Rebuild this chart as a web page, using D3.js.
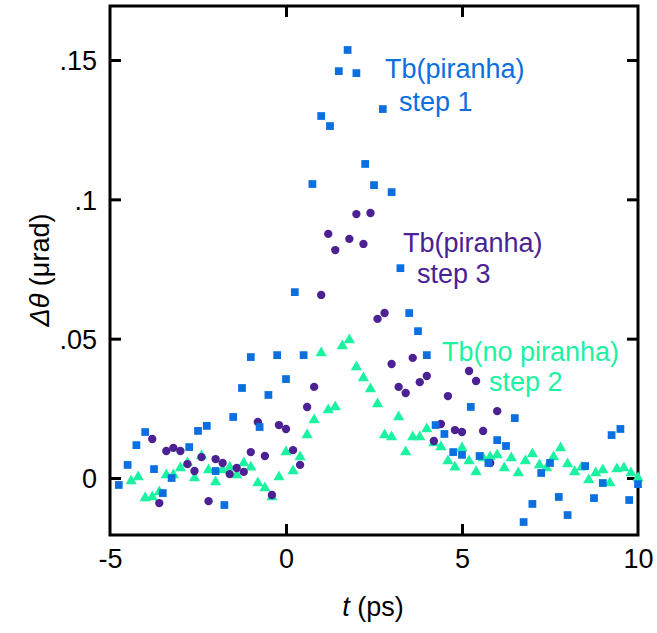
<!DOCTYPE html>
<html>

<head>
    <meta charset=utf-8 />
    <script src="https://cdn.jsdelivr.net/npm/d3@7/dist/d3.min.js"></script>
    <title>delta theta vs t</title>
    <style>
        html,
        body {
            margin: 0;
            background: #fff;
        }

        svg text {
            font-family: "Liberation Sans", Arial, sans-serif;
        }
    </style>
</head>

<body>
    <div id="svg-canvas"></div>
    <script>
        // step 1: Tb(piranha), squares
        var step1T = [-4.75, -4.5, -4.25, -4, -3.75, -3.5, -3.25, -2.75, -2.5, -2.25, -2, -1.75, -1.5, -1.25, -1,
            -0.75, -0.5, -0.25, 0, 0.25, 0.5, 0.75, 1, 1.25, 1.5, 1.75, 2, 2.25, 2.5, 2.75, 3, 3.25, 3.5, 3.75, 4,
            4.25, 4.5, 4.75, 5, 5.25, 5.5, 5.75, 6, 6.25, 6.5, 6.75, 7, 7.25, 7.5, 7.75, 8, 8.5, 8.75, 9, 9.25, 9.5,
            9.75, 10];
        var step1V = [-0.0025, 0.0047, 0.0118, 0.0165, 0.0032, -0.0054, 0, 0.0111, 0.0169, 0.0187, 0.0025, -0.0097,
            0.0219, 0.0323, 0.0434, 0.0183, 0.0298, 0.0441, 0.0355, 0.0667, 0.0441, 0.1055, 0.1299, 0.1263, 0.146,
            0.1536, 0.1453, 0.1127, 0.1051, 0.1324, 0.1026, 0.0753, 0.0592, 0.0527, 0.0441, 0.019, 0.0158, 0.0093,
            0.0083, 0.0255, 0.0079, 0.0054, 0.0136, 0.0115, 0.0215, -0.0158, -0.0093, 0.0018, 0.0054, -0.0068,
            -0.0133, 0.0043, -0.0072, -0.0018, 0.0154, 0.0176, -0.0079, -0.0022];

        // step 3: Tb(piranha), circles
        var step3T = [-3.8, -3.6, -3.4, -3.2, -3, -2.8, -2.6, -2.4, -2.2, -2, -1.8, -1.6, -1.4, -1.2, -1, -0.8, -0.6,
            -0.4, -0.2, 0, 0.2, 0.4, 0.6, 0.8, 1, 1.2, 1.4, 1.8, 2, 2.2, 2.4, 2.6, 2.8, 3, 3.2, 3.4, 3.6, 3.8, 4,
            4.2, 4.4, 4.6, 4.8, 5, 5.2, 5.4, 5.6, 5.8, 6];
        var step3V = [0.014, -0.009, 0.0097, 0.0108, 0.0097, 0.005, 0.0025, 0.0075, -0.0083, 0.0068, 0.0054, 0.0014,
            0.0036, 0.0022, 0.0093, 0.0201, 0.0079, -0.0061, 0.019, 0.0176, 0.01, 0.0047, 0.0255, 0.0327, 0.0657,
            0.0876, 0.0818, 0.0858, 0.0947, 0.084, 0.0951, 0.0571, 0.0592, 0.0409, 0.0327, 0.0305, 0.0431, 0.0344,
            0.0366, 0.0133, 0.0194, 0.0294, 0.0172, 0.0165, 0.0384, 0.0348, 0.0169, 0.0054, 0.024];

        // step 2: Tb(no piranha), triangles
        var step2T = [-4.4, -4.2, -4, -3.8, -3.6, -3.4, -3.2, -3, -2.8, -2.6, -2.4, -2.2, -2, -1.8, -1.6, -1.4, -1.2,
            -1, -0.8, -0.6, -0.4, -0.2, 0, 0.2, 0.4, 0.6, 0.8, 1, 1.2, 1.4, 1.6, 1.8, 2, 2.2, 2.4, 2.6, 2.8, 3, 3.2,
            3.4, 3.6, 3.8, 4, 4.2, 4.4, 4.6, 4.8, 5, 5.2, 5.4, 5.6, 5.8, 6, 6.2, 6.4, 6.6, 6.8, 7, 7.2, 7.4, 7.6,
            7.8, 8, 8.2, 8.4, 8.6, 8.8, 9, 9.2, 9.4, 9.6, 9.8, 10];
        var step2V = [-0.0011, 0.0004, -0.0072, -0.0068, -0.005, 0.0011, 0.0011, 0.0036, 0.0054, 0, 0.0079, 0.0029,
            -0.0014, 0.0029, 0.0039, 0.0011, 0.0054, 0.0039, -0.0018, -0.0036, -0.0068, 0.0004, 0.0093, 0.0025,
            0.0075, 0.0154, 0.0208, 0.0449, 0.0244, 0.0255, 0.0474, 0.0495, 0.0398, 0.0359, 0.0319, 0.0266, 0.0154,
            0.0147, 0.0219, 0.0093, 0.0147, 0.0147, 0.0176, 0.0126, 0.0111, 0.0061, 0.0039, 0.0108, 0.0061, 0.0022,
            0.0072, 0.0075, 0.0083, 0.0036, 0.0072, 0.0018, 0.0061, 0.0086, 0.0047, 0.0036, 0.0075, 0.0108, 0.005,
            0.0022, 0.0039, -0.0007, 0.0018, 0.0029, -0.0018, 0.0032, 0.0036, 0.0018, 0];

        var xTicks = [-5, 0, 5, 10];
        var yTicks = [0, 0.05, 0.1, 0.15];
    </script>
    <script>
        var W = 657, H = 633;
        var blue = '#0b6fdf', purple = '#4b2194', green = '#1cf3a2';

        var svg = d3.select('#svg-canvas').append('svg')
            .attr('width', W)
            .attr('height', H);

        var x = d3.scaleLinear().domain([-5, 10]).range([110, 638]);
        var y = d3.scaleLinear().domain([-0.02045, 0.16938]).range([535, 6]);

        var fmtY = d => d === 0 ? '0' : d3.format('.2~f')(d).replace(/^0/, '');

        // frame
        svg.append('rect')
            .attr('x', 110).attr('y', 6)
            .attr('width', 528).attr('height', 529)
            .attr('fill', 'none')
            .attr('stroke', '#000')
            .attr('stroke-width', 3)

        function styleAxis(axis, showText) {
            axis.select('.domain').remove();
            axis.selectAll('line')
                .attr('stroke', '#000')
                .attr('stroke-width', 3)
            if (!showText) axis.selectAll('text').remove();
            axis.selectAll('text')
                .attr('fill', '#000')
                .style('font-size', '27px')
        }

        // ticks point inward on all four sides
        var axL = svg.append('g').attr('transform', 'translate(110,0)')
            .call(d3.axisLeft(y).tickValues(yTicks).tickFormat(fmtY).tickSize(-11).tickPadding(13))
        styleAxis(axL, true);
        axL.selectAll('text').attr('dy', '0.36em')

        var axR = svg.append('g').attr('transform', 'translate(638,0)')
            .call(d3.axisRight(y).tickValues(yTicks).tickSize(-11))
        styleAxis(axR, false);

        var axB = svg.append('g').attr('transform', 'translate(0,535)')
            .call(d3.axisBottom(x).tickValues(xTicks).tickFormat(d => String(d)).tickSize(-11).tickPadding(14))
        styleAxis(axB, true);
        axB.selectAll('text').attr('dy', '0.72em')

        var axT = svg.append('g').attr('transform', 'translate(0,6)')
            .call(d3.axisTop(x).tickValues(xTicks).tickSize(-11))
        styleAxis(axT, false);
        axT.selectAll('.tick').filter(d => d === -5 || d === 10).remove();
        axB.selectAll('.tick line').filter(d => d === -5 || d === 10).remove();

        // points
        function series(ts, vs, shape, size, color) {
            var pts = ts.map((t, i) => ({ t: t, v: vs[i] }));
            svg.append('g').selectAll('path')
                .data(pts)
                .enter().append('path')
                .attr('transform', d => 'translate(' + x(d.t) + ',' + y(d.v) + ')')
                .attr('d', d3.symbol().type(shape).size(size))
                .attr('fill', color)
        }

        series(step2T, step2V, d3.symbolTriangle, 55, green);
        series(step3T, step3V, d3.symbolCircle, 55, purple);
        series(step1T, step1V, d3.symbolSquare, 60, blue);

        // labels
        var labels = [
            { lines: ['Tb(piranha)', 'step 1'], xs: [385, 399], ys: [78, 111], color: blue },
            { lines: ['Tb(piranha)', 'step 3'], xs: [403, 417], ys: [252, 283], color: purple },
            { lines: ['Tb(no piranha)', 'step 2'], xs: [442, 489], ys: [361, 391], color: green }
        ];
        labels.forEach(function (l) {
            l.lines.forEach(function (s, i) {
                svg.append('text')
                    .attr('x', l.xs[i])
                    .attr('y', l.ys[i])
                    .attr('fill', l.color)
                    .style('font-size', '27px')
                    .text(s)
            })
        })

        // axis titles
        var xt = svg.append('text')
            .attr('x', 373)
            .attr('y', 616)
            .attr('text-anchor', 'middle')
            .style('font-size', '27px')
        xt.append('tspan').style('font-style', 'italic').text('t')
        xt.append('tspan').text(' (ps)')

        var yt = svg.append('text')
            .attr('transform', 'translate(49,270) rotate(-90)')
            .attr('text-anchor', 'middle')
            .style('font-size', '27px')
        yt.append('tspan').style('font-style', 'italic').text('Δθ')
        yt.append('tspan').text(' (μrad)')
    </script>
</body>

</html>
